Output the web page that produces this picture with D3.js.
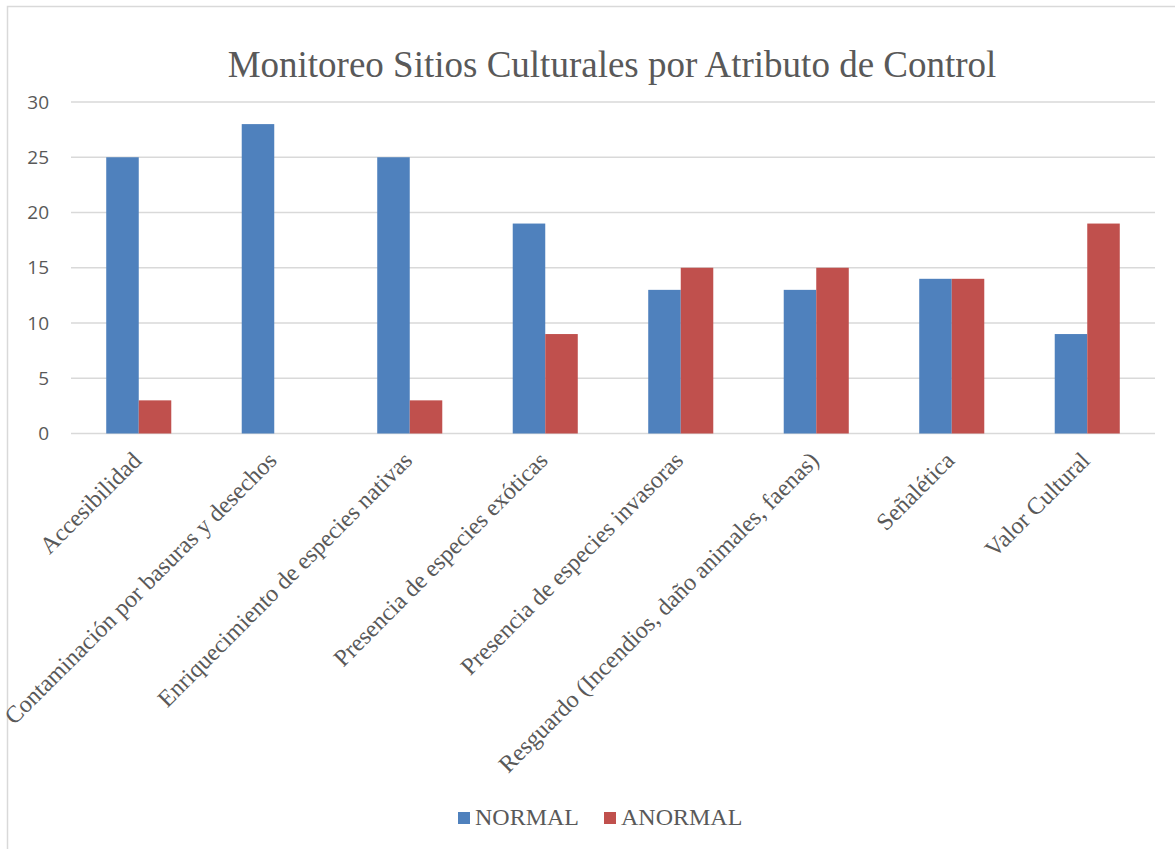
<!DOCTYPE html>
<html><head><meta charset="utf-8">
<script src="https://cdn.jsdelivr.net/npm/d3@7/dist/d3.min.js"></script>
<style>body{margin:0;background:#fff}svg{display:block}</style>
</head><body>
<svg id="c" width="1175" height="849"></svg>
<script>
const categories = ["Accesibilidad","Contaminación por basuras y desechos","Enriquecimiento de especies nativas","Presencia de especies exóticas","Presencia de especies invasoras","Resguardo (Incendios, daño animales, faenas)","Señalética","Valor Cultural"];
const seriesNames = ["NORMAL","ANORMAL"];
const normal = [25,28,25,19,13,13,14,9];
const anormal = [3,0,3,9,15,15,14,19];
const yTicks = [0,5,10,15,20,25,30];
const colors = ["#4F81BD","#C0504D"];

const svg = d3.select("#c");
svg.append("rect").attr("x",7.5).attr("y",6.5).attr("width",1180).attr("height",860)
  .attr("fill","#fff").attr("stroke","#d9d9d9").attr("stroke-width",1.5);

const x0 = d3.scaleBand().domain(categories).range([71,1155]).paddingInner(0.52).paddingOuter(0.26);
const x1 = d3.scaleBand().domain(seriesNames).range([0,x0.bandwidth()]);
const y = d3.scaleLinear().domain([0,30]).range([433.5,102]);

const grid = svg.append("g");
grid.selectAll("line").data(yTicks).join("line")
  .attr("x1",71).attr("x2",1155).attr("y1",d=>y(d)).attr("y2",d=>y(d))
  .attr("stroke","#d9d9d9").attr("stroke-width",1.5);

const yAxis = d3.axisLeft(y).tickValues(yTicks).tickSize(0).tickPadding(0);
const ya = svg.append("g").attr("transform","translate(49,0)").call(yAxis);
ya.select(".domain").remove();
ya.selectAll("text").attr("font-family","'Open Sans', 'Liberation Sans', sans-serif").attr("font-size",19).attr("fill","#595959");

const data = categories.map((c,i)=>({c, vals:[normal[i],anormal[i]]}));
const g = svg.append("g");
g.selectAll("g").data(data).join("g").attr("transform",d=>`translate(${x0(d.c)},0)`)
  .selectAll("rect").data(d=>d.vals.map((v,j)=>({s:seriesNames[j],v,j}))).join("rect")
  .attr("x",d=>x1(d.s)).attr("width",x1.bandwidth())
  .attr("y",d=>y(d.v)).attr("height",d=>y(0)-y(d.v))
  .attr("fill",d=>colors[d.j]);

const xa = svg.append("g");
xa.selectAll("text").data(categories).join("text")
  .attr("transform",d=>`translate(${x0(d)+x0.bandwidth()/2-2},${456}) rotate(-45)`)
  .attr("text-anchor","end").attr("dy","0.35em")
  .attr("font-family","'Liberation Serif', 'Times New Roman', serif").attr("font-size",24).attr("fill","#595959")
  .text(d=>d);

svg.append("text").attr("x",612).attr("y",77).attr("text-anchor","middle")
  .attr("font-family","'Liberation Serif', 'Times New Roman', serif").attr("font-size",37).attr("fill","#595959")
  .text("Monitoreo Sitios Culturales por Atributo de Control");

const leg = svg.append("g");
const legX = [458,604];
seriesNames.forEach((s,i)=>{
  leg.append("rect").attr("x",legX[i]).attr("y",812).attr("width",12).attr("height",12).attr("fill",colors[i]);
  leg.append("text").attr("x",legX[i]+17).attr("y",825)
    .attr("font-family","'Liberation Serif', 'Times New Roman', serif").attr("font-size",24).attr("fill","#595959").text(s);
});
</script>
</body></html>
